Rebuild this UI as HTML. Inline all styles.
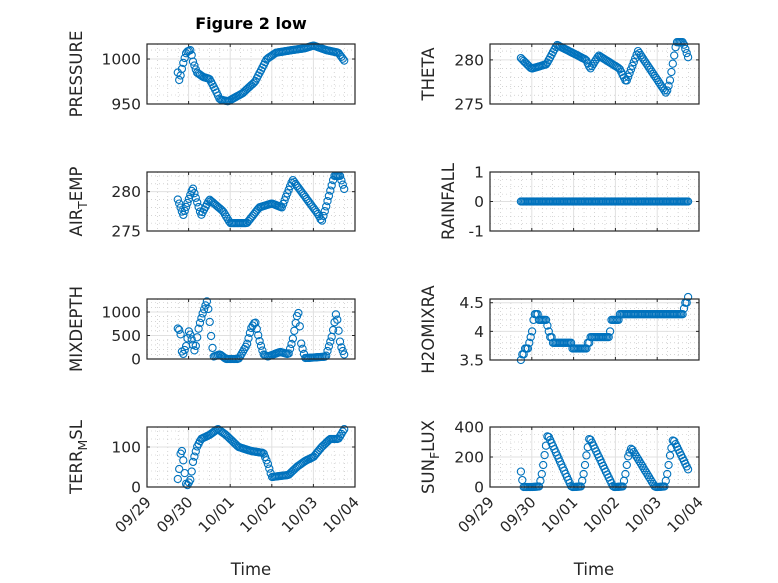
<!DOCTYPE html>
<html><head><meta charset="utf-8"><style>
html,body{margin:0;padding:0;background:#fff;}
svg{display:block;font-family:"DejaVu Sans","Liberation Sans",sans-serif;}
</style></head><body>
<svg id="s" width="778" height="583" viewBox="0 0 778 583" xmlns="http://www.w3.org/2000/svg">
<rect width="778" height="583" fill="#fff"/>
<text x="251" y="29" font-size="16" font-weight="bold" text-anchor="middle" fill="#000">Figure 2 low</text>
<text x="251" y="575" font-size="16.5" text-anchor="middle" fill="#262626">Time</text>
<text x="594" y="575" font-size="16.5" text-anchor="middle" fill="#262626">Time</text>
</svg>
<script>
const S=document.getElementById('s'),NS='http://www.w3.org/2000/svg';
function el(t,a,txt){const e=document.createElementNS(NS,t);for(const k in a)e.setAttribute(k,a[k]);if(txt!==undefined)e.textContent=txt;S.appendChild(e);return e;}
function interp(k,t){if(t<=k[0][0])return k[0][1];for(let i=1;i<k.length;i++){if(t<=k[i][0]){const a=k[i-1],b=k[i];return a[1]+(b[1]-a[1])*(t-a[0])/(b[0]-a[0]);}}return k[k.length-1][1];}
const T=[];for(let t=0.74;t<=4.77;t+=1/30)T.push(t);
function sun(t){const d=Math.floor(t),f=t-d;const pk={1:350,2:330,3:260,4:320}[d]||0;
 if(d===0){return f>0.73&&f<0.8?interp([[0.73,120],[0.8,0]],f):0;}
 if(f<0.18)return Math.max(0,20*f);if(f<0.38)return interp([[0.18,5],[0.25,100],[0.3,200],[0.38,pk]],f);
 if(f<0.95)return pk*(0.95-f)/0.57;return 0;}
const P=[
{x0:147,x1:355,y0:44,y1:104,lo:950,hi:1016.7,ticks:[950,1000],minor:10,label:['PRESSURE'],lx:82,
 k:[[0.74,985],[0.78,975],[0.82,985],[0.88,997],[0.95,1008],[1.05,1010],[1.1,998],[1.2,985],[1.35,980],[1.5,978],[1.65,965],[1.75,955],[1.95,953],[2.3,962],[2.6,975],[2.88,1000],[3.1,1007],[3.5,1010],[3.8,1012],[4.0,1015],[4.3,1010],[4.6,1007],[4.76,997]]},
{x0:490,x1:699,y0:44,y1:104,lo:275,hi:281.8,ticks:[275,280],minor:1,label:['THETA'],lx:434,
 k:[[0.72,280.3],[0.99,279],[1.35,279.5],[1.6,281.7],[2.3,280],[2.4,279],[2.6,280.5],[3.1,279],[3.26,277.5],[3.54,281],[4.22,276.2],[4.3,277.5],[4.46,282],[4.62,282],[4.74,280.3]]},
{x0:147,x1:355,y0:172,y1:231,lo:275,hi:282.5,ticks:[275,280],minor:1,label:['AIR','T','EMP'],lx:82,
 k:[[0.74,279],[0.87,277],[1.1,280.5],[1.3,277],[1.5,279],[1.83,277.5],[2.0,276],[2.4,276],[2.7,278],[3.0,278.5],[3.24,278],[3.5,281.5],[4.13,277],[4.2,276.2],[4.3,278],[4.5,282],[4.64,282],[4.76,280]]},
{x0:490,x1:699,y0:172,y1:231,lo:-1,hi:1,ticks:[-1,0,1],minor:0.25,label:['RAINFALL'],lx:454,k:[[0,0],[5,0]]},
{x0:147,x1:355,y0:299,y1:359,lo:0,hi:1277,ticks:[0,500,1000],minor:100,label:['MIXDEPTH'],lx:82,
 k:[[0.74,650],[0.8,600],[0.85,50],[0.95,300],[1.0,600],[1.05,500],[1.15,150],[1.25,700],[1.35,1000],[1.45,1250],[1.5,850],[1.55,400],[1.6,50],[1.75,100],[1.9,0],[2.2,0],[2.4,300],[2.5,650],[2.6,800],[2.7,400],[2.8,100],[2.9,50],[3.2,150],[3.4,100],[3.5,400],[3.6,900],[3.65,1000],[3.7,350],[3.8,20],[4.3,50],[4.45,500],[4.55,1000],[4.65,300],[4.76,50]]},
{x0:490,x1:699,y0:299,y1:360,lo:3.5,hi:4.565,ticks:[3.5,4,4.5],minor:0.1,label:['H2OMIXRA'],lx:434,q:0.1,
 k:[[0.73,3.5],[0.95,3.8],[1.07,4.3],[1.35,4.15],[1.5,3.8],[1.9,3.8],[2.0,3.7],[2.3,3.7],[2.4,3.9],[2.86,3.9],[2.9,4.2],[3.26,4.3],[3.9,4.3],[4.6,4.3],[4.74,4.6]]},
{x0:147,x1:355,y0:427,y1:487,lo:0,hi:150,ticks:[0,100],minor:20,label:['TERR','M','SL'],lx:82,xt:1,
 k:[[0.74,20],[0.78,50],[0.82,100],[0.86,80],[0.9,40],[0.95,0],[1.05,20],[1.1,60],[1.2,100],[1.3,120],[1.5,130],[1.7,145],[1.9,130],[2.0,120],[2.2,100],[2.5,90],[2.8,85],[2.9,60],[3.0,25],[3.4,30],[3.6,50],[3.8,65],[4.0,75],[4.2,100],[4.4,120],[4.6,120],[4.76,148]]},
{x0:490,x1:699,y0:427,y1:487,lo:0,hi:400,ticks:[0,200,400],minor:50,label:['SUN','F','LUX'],lx:434,xt:1,f:sun}
];
const lab=['09/29','09/30','10/01','10/02','10/03','10/04'];
for(const p of P){
 const X=d=>p.x0+(p.x1-p.x0)*d/5, Y=v=>p.y1-(p.y1-p.y0)*(v-p.lo)/(p.hi-p.lo);
 for(let d=0.25;d<5;d+=0.25){if(Math.abs(d-Math.round(d))<1e-6)continue;el('line',{x1:X(d),x2:X(d),y1:p.y0,y2:p.y1,stroke:'#bbb','stroke-width':0.6,'stroke-dasharray':'1 3'});}
 for(let v=Math.ceil(p.lo/p.minor)*p.minor;v<p.hi;v+=p.minor){if(p.ticks.some(t=>Math.abs(t-v)<1e-6))continue;el('line',{x1:p.x0,x2:p.x1,y1:Y(v),y2:Y(v),stroke:'#bbb','stroke-width':0.6,'stroke-dasharray':'1 3'});}
 for(let d=1;d<5;d++)el('line',{x1:X(d),x2:X(d),y1:p.y0,y2:p.y1,stroke:'#e0e0e0','stroke-width':1});
 for(const t of p.ticks){el('line',{x1:p.x0,x2:p.x1,y1:Y(t),y2:Y(t),stroke:'#e0e0e0','stroke-width':1});
  el('line',{x1:p.x0,x2:p.x0+3,y1:Y(t),y2:Y(t),stroke:'#262626'});el('line',{x1:p.x1-3,x2:p.x1,y1:Y(t),y2:Y(t),stroke:'#262626'});
  el('text',{x:p.x0-6,y:Y(t)+5.5,'font-size':15.5,'text-anchor':'end',fill:'#262626'},String(t));}
 for(let d=0;d<=5;d++){el('line',{x1:X(d),x2:X(d),y1:p.y1,y2:p.y1-3,stroke:'#262626'});el('line',{x1:X(d),x2:X(d),y1:p.y0,y2:p.y0+3,stroke:'#262626'});
  if(p.xt)el('text',{x:X(d)+5,y:p.y1+16,'font-size':15,'text-anchor':'end',fill:'#262626',transform:`rotate(-45 ${X(d)+5} ${p.y1+16})`},lab[d]);}
 for(const t of T){if(t>4.77)break;let v=p.f?p.f(t):interp(p.k,t);if(p.q)v=Math.round(v/p.q)*p.q;
  el('circle',{cx:X(t).toFixed(1),cy:Y(v).toFixed(1),r:3.6,fill:'none',stroke:'#0072BD','stroke-width':1.1});}
 el('rect',{x:p.x0,y:p.y0,width:p.x1-p.x0,height:p.y1-p.y0,fill:'none',stroke:'#262626','stroke-width':1.2});
 const cy=(p.y0+p.y1)/2, tx=el('text',{x:p.lx,y:cy,'font-size':16.5,'text-anchor':'middle',fill:'#262626',transform:`rotate(-90 ${p.lx} ${cy})`});
 if(p.label.length===1)tx.textContent=p.label[0];else{
  const a=document.createElementNS(NS,'tspan');a.textContent=p.label[0];tx.appendChild(a);
  const b=document.createElementNS(NS,'tspan');b.setAttribute('dy','5');b.setAttribute('font-size','12.5');b.textContent=p.label[1];tx.appendChild(b);
  const c=document.createElementNS(NS,'tspan');c.setAttribute('dy','-5');c.textContent=p.label[2];tx.appendChild(c);}
}
</script>
</body></html>
